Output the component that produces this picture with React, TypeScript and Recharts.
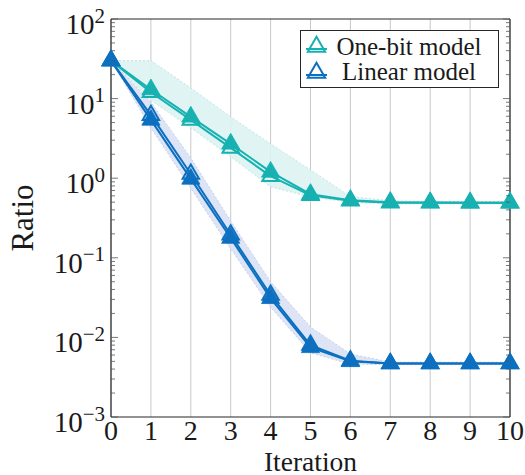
import React from 'react';
import {
  ComposedChart,
  Line,
  Area,
  XAxis,
  YAxis,
  CartesianGrid,
  ReferenceLine,
  Legend,
  Label,
} from 'recharts';

// ---- data ----
const iterations = [0, 1, 2, 3, 4, 5, 6, 7, 8, 9, 10];

const oneBitFilled = [30, 13, 5.9, 2.7, 1.2, 0.63, 0.53, 0.5, 0.495, 0.49, 0.49];
const oneBitOpen = [30, 12, 5.4, 2.4, 1.06, 0.61, 0.52, 0.49, 0.49, 0.49, 0.49];
const oneBitHigh = [30, 30, 13.6, 5.9, 2.7, 1.27, 0.59, 0.52, 0.51, 0.51, 0.51];
const oneBitLow = [30, 9.5, 4.3, 1.86, 0.78, 0.58, 0.5, 0.475, 0.475, 0.475, 0.475];

const linearOpen = [30, 6.2, 1.13, 0.195, 0.034, 0.008, 0.0051, 0.0047, 0.0047, 0.0047, 0.0047];
const linearFilled = [30, 5.4, 0.98, 0.177, 0.031, 0.0075, 0.005, 0.0047, 0.0047, 0.0047, 0.0047];
const linearHigh = [30, 9, 1.8, 0.29, 0.05, 0.0135, 0.0062, 0.0049, 0.0049, 0.0049, 0.0049];
const linearLow = [30, 4.3, 0.75, 0.13, 0.024, 0.0064, 0.0046, 0.00455, 0.00455, 0.00455, 0.00455];

const xTicks = [0, 1, 2, 3, 4, 5, 6, 7, 8, 9, 10];
const yMajorTicks = [0.001, 0.01, 0.1, 1, 10, 100];
const yMinorSteps = [2, 3, 4, 5, 6, 7, 8, 9];
const legendLabels = ['One-bit model', 'Linear model'];
const xLabel = 'Iteration';
const yLabel = 'Ratio';

// ---- styles ----
const SERIF = "'Liberation Serif', 'DejaVu Serif', serif";
const TEAL = '#17B1B1';
const BLUE = '#0C6FBF';
const TEAL_BAND = '#DDF3F3';
const BLUE_BAND = '#D9E1F4';
const GRID = '#C9C9C9';
const AXIS = '#262626';

const data = iterations.map((x, i) => ({
  x,
  obFilled: oneBitFilled[i],
  obOpen: oneBitOpen[i],
  obBand: [oneBitLow[i], oneBitHigh[i]],
  linFilled: linearFilled[i],
  linOpen: linearOpen[i],
  linBand: [linearLow[i], linearHigh[i]],
}));

const allYTicks: number[] = [];
yMajorTicks.forEach((t, i) => {
  allYTicks.push(t);
  if (i < yMajorTicks.length - 1) yMinorSteps.forEach((m) => allYTicks.push(m * t));
});

const isMajor = (v: number) => Math.abs(Math.log10(v) - Math.round(Math.log10(v))) < 1e-6;
const expText = (v: number) => {
  const e = Math.round(Math.log10(v));
  return e < 0 ? `\u2212${-e}` : `${e}`;
};

const triPath = (cx: number, cy: number, r: number) =>
  `M${cx},${cy - r}L${cx + 0.866 * r},${cy + 0.5 * r}L${cx - 0.866 * r},${cy + 0.5 * r}Z`;

const makeDot = (color: string, filled: boolean) => (p: any) => {
  const { cx, cy, index } = p;
  if (cx == null || cy == null) return <g key={`e-${index}`} />;
  return filled ? (
    <path key={`d-${index}`} d={triPath(cx, cy, 10.5)} fill={color} stroke={color} strokeWidth={0.8} />
  ) : (
    <path key={`d-${index}`} d={triPath(cx, cy, 9.5)} fill="none" stroke={color} strokeWidth={2} strokeLinejoin="miter" />
  );
};

const LeftTick = (p: any) => {
  const { x, y, payload } = p;
  const v = payload.value;
  const major = isMajor(v);
  return (
    <g>
      <line x1={x} x2={x + (major ? 7 : 4)} y1={y} y2={y} stroke="#555" strokeWidth={0.8} />
      {major && (
        <text x={x - 6} y={y + 15} textAnchor="end" fontFamily={SERIF} fontSize={29} fill="#1a1a1a">
          10
          <tspan dy={-11.5} fontSize={21}>
            {expText(v)}
          </tspan>
        </text>
      )}
    </g>
  );
};

const RightTick = (p: any) => {
  const { x, y, payload } = p;
  const major = isMajor(payload.value);
  return <line x1={x} x2={x - (major ? 7 : 4)} y1={y} y2={y} stroke="#555" strokeWidth={0.8} />;
};

const BottomTick = (p: any) => {
  const { x, y, payload } = p;
  return (
    <text x={x} y={y + 23} textAnchor="middle" fontFamily={SERIF} fontSize={28} fill="#1a1a1a">
      {payload.value}
    </text>
  );
};

const LegendBox = () => {
  const colors = [TEAL, BLUE];
  return (
    <svg width={199} height={58} style={{ display: 'block' }}>
      <rect x={0.5} y={0.5} width={198} height={57} fill="#fff" stroke={AXIS} strokeWidth={1} />
      {legendLabels.map((lab, i) => {
        const cy = 16.7 + i * 26;
        const c = colors[i];
        return (
          <g key={lab}>
            <line x1={6} x2={27} y1={cy + 2.3} y2={cy + 2.3} stroke={c} strokeWidth={2} />
            <path d={triPath(16.5, cy, 10)} fill="none" stroke={c} strokeWidth={2} />
            <text x={109} y={25 + i * 25} textAnchor="middle" fontFamily={SERIF} fontSize={25} fill="#1a1a1a">
              {lab}
            </text>
          </g>
        );
      })}
    </svg>
  );
};

export default function App() {
  return (
    <div style={{ position: 'absolute', left: 0, top: 0, background: '#fff' }}>
      <ComposedChart width={525} height={475} data={data} margin={{ top: 19, right: 0, bottom: 0, left: 0 }}>
        <CartesianGrid stroke={GRID} strokeWidth={1} horizontalValues={yMajorTicks} verticalValues={xTicks} />
        <XAxis
          dataKey="x"
          type="number"
          domain={[0, 10]}
          ticks={xTicks}
          interval={0}
          height={58}
          tickSize={0}
          tickMargin={0}
          tickLine={false}
          axisLine={{ stroke: AXIS, strokeWidth: 1.2 }}
          tick={<BottomTick />}
        >
          <Label
            content={(p: any) => {
              const vb = p.viewBox || { x: 111, y: 417, width: 399, height: 58 };
              return (
                <text
                  x={vb.x + vb.width / 2}
                  y={vb.y + vb.height - 4.5}
                  textAnchor="middle"
                  fontFamily={SERIF}
                  fontSize={27.5}
                  fill="#1a1a1a"
                >
                  {xLabel}
                </text>
              );
            }}
          />
        </XAxis>
        <YAxis
          yAxisId="left"
          type="number"
          scale="log"
          domain={[0.001, 100]}
          ticks={allYTicks}
          interval={0}
          width={111}
          tickSize={0}
          tickMargin={0}
          tickLine={false}
          axisLine={{ stroke: AXIS, strokeWidth: 1.2 }}
          tick={<LeftTick />}
        >
          <Label
            content={(p: any) => {
              const vb = p.viewBox || { x: 0, y: 19, width: 111, height: 398 };
              const cy = vb.y + vb.height / 2;
              return (
                <text
                  x={33}
                  y={cy}
                  transform={`rotate(-90, 33, ${cy})`}
                  textAnchor="middle"
                  fontFamily={SERIF}
                  fontSize={31}
                  fill="#1a1a1a"
                >
                  {yLabel}
                </text>
              );
            }}
          />
        </YAxis>
        <YAxis
          yAxisId="right"
          orientation="right"
          type="number"
          scale="log"
          domain={[0.001, 100]}
          ticks={allYTicks}
          interval={0}
          width={15}
          tickSize={0}
          tickMargin={0}
          tickLine={false}
          axisLine={{ stroke: AXIS, strokeWidth: 1.2 }}
          tick={<RightTick />}
        />
        <ReferenceLine yAxisId="left" y={100} stroke={AXIS} strokeWidth={1.2} />

        <Area
          yAxisId="left"
          type="linear"
          dataKey="obBand"
          fill={TEAL_BAND}
          fillOpacity={0.9}
          stroke="#A8DEDE"
          strokeWidth={0.7}
          strokeDasharray="2 2"
          dot={false}
          activeDot={false}
          isAnimationActive={false}
          legendType="none"
        />
        <Area
          yAxisId="left"
          type="linear"
          dataKey="linBand"
          fill={BLUE_BAND}
          fillOpacity={0.9}
          stroke="#B3C1E8"
          strokeWidth={0.7}
          strokeDasharray="2 2"
          dot={false}
          activeDot={false}
          isAnimationActive={false}
          legendType="none"
        />
        <Line
          yAxisId="right"
          dataKey="linFilled"
          stroke="none"
          dot={false}
          activeDot={false}
          isAnimationActive={false}
          legendType="none"
        />
        <Line
          yAxisId="left"
          type="linear"
          dataKey="obOpen"
          stroke={TEAL}
          strokeWidth={2}
          dot={makeDot(TEAL, false)}
          activeDot={false}
          isAnimationActive={false}
        />
        <Line
          yAxisId="left"
          type="linear"
          dataKey="obFilled"
          stroke={TEAL}
          strokeWidth={2}
          dot={makeDot(TEAL, true)}
          activeDot={false}
          isAnimationActive={false}
        />
        <Line
          yAxisId="left"
          type="linear"
          dataKey="linOpen"
          stroke={BLUE}
          strokeWidth={2}
          dot={makeDot(BLUE, false)}
          activeDot={false}
          isAnimationActive={false}
        />
        <Line
          yAxisId="left"
          type="linear"
          dataKey="linFilled"
          stroke={BLUE}
          strokeWidth={2}
          dot={makeDot(BLUE, true)}
          activeDot={false}
          isAnimationActive={false}
        />
        <Legend
          layout="horizontal"
          verticalAlign="middle"
          align="center"
          content={() => <LegendBox />}
          wrapperStyle={{ left: 300, top: 30, width: 199, height: 58 }}
        />
      </ComposedChart>
    </div>
  );
}
